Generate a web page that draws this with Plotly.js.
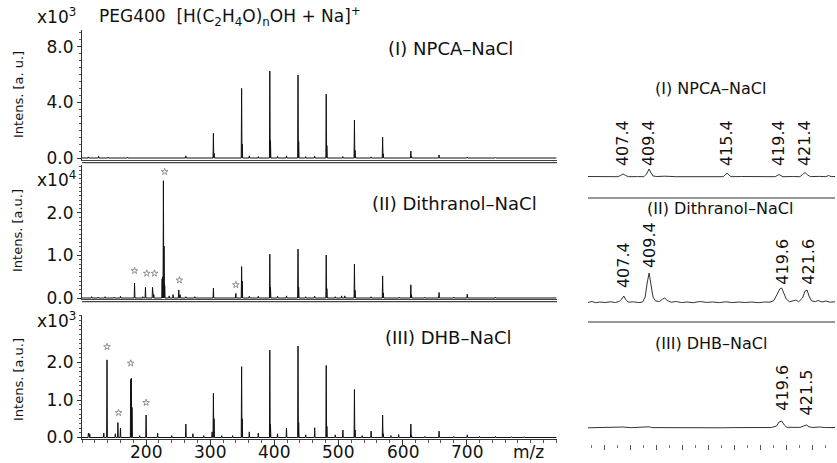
<!DOCTYPE html>
<html><head><meta charset="utf-8">
<script src="https://cdn.plot.ly/plotly-3.0.1.min.js"></script>
<style>html,body{margin:0;padding:0;background:#fff}#c{width:837px;height:463px}</style>
</head><body><div id="c"></div>
<script>
// ---- Left panels: stick spectra (m/z, intensity) ----
// (I) NPCA-NaCl, x10^3
const mzI = [110,126,141,171,262,305,306,319,349,350,361,375,393,394,405,419,437,438,449,463,481,482,507,525,526,551,569,570,613,614,657,701,745];
const hI  = [0.08,0.12,0.06,0.06,0.15,1.78,0.35,0.05,5.01,1.0,0.15,0.1,6.26,1.25,0.12,0.15,5.97,1.2,0.1,0.12,4.6,0.9,0.1,2.73,0.55,0.08,1.49,0.3,0.5,0.1,0.22,0.07,0.03];
// (II) Dithranol-NaCl, x10^4
const mzII = [115,125,136,150,160,182,195,199,210,212,225,226,227,228,229,236,242,251,253,262,276,305,340,349,350,361,375,393,394,405,419,437,438,449,463,481,482,495,505,510,525,526,551,569,570,595,613,614,635,657,680,701,745];
const hII  = [0.03,0.02,0.03,0.02,0.04,0.35,0.03,0.25,0.25,0.08,0.45,0.5,2.76,1.22,0.3,0.05,0.08,0.19,0.08,0.03,0.03,0.23,0.11,0.74,0.4,0.04,0.04,1.03,0.25,0.04,0.05,1.15,0.25,0.03,0.04,1.01,0.22,0.03,0.05,0.05,0.8,0.18,0.03,0.52,0.12,0.02,0.31,0.07,0.02,0.13,0.02,0.09,0.02];
// (III) DHB-NaCl, x10^3
const mzIII = [110,112,134,139,152,156,160,176,177,178,190,200,218,240,262,273,290,303,305,306,318,335,349,350,361,375,393,394,405,419,437,438,449,463,481,482,495,507,525,526,537,551,569,570,582,594,613,614,635,657,680,701,720,745,770,790];
const hIII  = [0.12,0.1,0.12,2.07,0.1,0.4,0.25,1.55,1.58,0.8,0.05,0.6,0.12,0.05,0.36,0.1,0.05,0.15,1.18,0.5,0.05,0.05,1.89,0.5,0.15,0.12,2.33,0.35,0.1,0.25,2.44,0.4,0.07,0.26,1.92,0.3,0.07,0.2,1.28,0.2,0.05,0.17,0.6,0.1,0.05,0.08,0.36,0.06,0.03,0.17,0.03,0.07,0.03,0.03,0.02,0.02];
// matrix-peak markers (*)
const starMzII = [182,201,213,229,252,340];
const starYII  = [0.64,0.58,0.58,2.97,0.42,0.31];
const starMzIII = [139,157,176,200];
const starYIII  = [2.42,0.66,1.98,0.93];
const xTicks = [200,300,400,500,600,700];

// ---- Right panels: zoomed profiles (relative intensity) ----
const rxI = [404.7,405.5,406.3,407.0,407.2,407.4,407.6,407.8,408.5,409.0,409.2,409.4,409.55,409.7,410.0,410.6,411.5,412.5,413.5,414.5,415.1,415.25,415.4,415.55,415.7,416.5,417.5,418.5,419.1,419.25,419.4,419.55,419.7,420.5,421.0,421.2,421.4,421.6,421.8,422.5,423.0,423.2,423.4,423.7];
const ryI = [0.5,0.2,0.6,0.3,1.5,3,1.5,0.3,0.4,0.3,3,8,4,1,0.5,0.8,0.3,0.5,0.2,0.4,0.3,2,4,2,0.3,0.5,0.2,0.4,0.3,1.5,2.5,1.2,0.3,0.5,0.3,2.5,4.5,2,0.4,0.6,0.3,1.5,0.4,0.5];
const rxII = [404.7,405.0,405.3,405.6,406.0,406.4,406.8,407.1,407.3,407.45,407.6,407.8,408.2,408.6,408.9,409.1,409.25,409.4,409.55,409.7,409.9,410.2,410.45,410.6,410.8,411.1,411.5,411.9,412.3,412.8,413.3,413.8,414.3,414.8,415.3,415.8,416.3,416.8,417.3,417.8,418.3,418.7,419.0,419.25,419.45,419.6,419.75,419.95,420.2,420.5,420.7,420.9,421.2,421.4,421.55,421.7,421.9,422.2,422.4,422.7,423.0,423.3,423.7];
const ryII = [0.5,1.5,0.3,1,0.5,1.2,0.5,1.5,4,7,3.5,0.8,1.2,0.4,1,6,20,30,18,6,2,1.5,4,5,2.5,0.8,1.5,0.4,1,0.3,1.5,0.6,1,0.4,1.2,0.4,1,0.5,1,0.3,1,0.8,2.5,9,14,15,10,4,1.2,2,3,1.2,5,12,13,7,2,1.5,2.5,1,2,0.8,1.2];
const rxIII = [404.7,405.5,406.2,406.8,407.4,408.0,408.6,409.2,409.4,409.6,410.2,411.0,412.0,413.0,414.0,415.0,416.0,417.0,418.0,418.8,419.2,419.4,419.6,419.8,420.0,420.5,421.0,421.3,421.5,421.7,422.0,422.5,423.0,423.7];
const ryIII = [0.2,0.5,0.2,0.4,1,0.3,0.4,0.5,1.2,0.4,0.3,0.5,0.2,0.4,0.3,0.2,0.4,0.3,0.5,0.5,2,6,7,3,0.7,0.8,0.6,2,3,1.2,0.5,1,0.4,0.5];
const lblI = ["407.4","409.4","415.4","419.4","421.4"];
const lblIy = [9,9,9,9,9];
const lblII = ["407.4","409.4","419.6","421.6"];
const lblIIy = [13,33,16,16];
const lblIII = ["419.6","421.5"];
const lblIIIy = [15,11];

const FONT = "DejaVu Sans";
const W = 837, H = 463;
const px = v => v / W;
const py = v => 1 - v / H;

function sticks(mz, h) {
  const idx = mz.map((m, i) => i).sort((a, b) => mz[a] - mz[b]);
  const x = [100], y = [0];
  idx.forEach(i => { x.push(mz[i] - 0.6, mz[i], mz[i] + 0.6); y.push(0, h[i], 0); });
  x.push(840); y.push(0);
  return {x, y};
}
const sI = sticks(mzI, hI), sII = sticks(mzII, hII), sIII = sticks(mzIII, hIII);
const lineStyle = {color: '#111', width: 1};
const starMarker = {symbol: 'star-open', size: 5, color: '#777', line: {width: 0.8, color: '#777'}};
const traces = [
  {x: sIII.x, y: sIII.y, xaxis: 'x', yaxis: 'y', mode: 'lines', line: lineStyle, hoverinfo: 'skip'},
  {x: sII.x, y: sII.y, xaxis: 'x2', yaxis: 'y2', mode: 'lines', line: lineStyle, hoverinfo: 'skip'},
  {x: sI.x, y: sI.y, xaxis: 'x3', yaxis: 'y3', mode: 'lines', line: lineStyle, hoverinfo: 'skip'},
  {x: starMzII, y: starYII, xaxis: 'x2', yaxis: 'y2', mode: 'markers', marker: starMarker},
  {x: starMzIII, y: starYIII, xaxis: 'x', yaxis: 'y', mode: 'markers', marker: starMarker},
  {x: rxI, y: ryI, xaxis: 'x4', yaxis: 'y4', mode: 'lines', line: {color: '#333', width: 1}},
  {x: rxII, y: ryII, xaxis: 'x5', yaxis: 'y5', mode: 'lines', line: {color: '#333', width: 1}},
  {x: rxIII, y: ryIII, xaxis: 'x6', yaxis: 'y6', mode: 'lines', line: {color: '#333', width: 1}}
];

const tickFont = {family: FONT, size: 17, color: '#111'};
const leftX = [px(82), px(557)];
const rightX = [px(588), px(835)];
function yLeft(dom, range, vals, minorD) {
  return {domain: dom, range: range, tickvals: vals, tickformat: '.1f', ticks: 'outside', ticklen: 4,
    tickcolor: '#333', showline: true, linecolor: '#333', linewidth: 1, showgrid: false, zeroline: false,
    tickfont: tickFont, minor: {ticks: 'outside', dtick: minorD, ticklen: 2, tickcolor: '#555'}, fixedrange: true};
}
function xHidden(anchor) {
  return {domain: rightX, range: [404.7, 423.7], anchor: anchor, showline: false, showgrid: false, zeroline: false,
    showticklabels: false, ticks: ''};
}
function yHidden(dom, range) {
  return {domain: dom, range: range, visible: false, showgrid: false, zeroline: false};
}
const layout = {
  width: W, height: H, margin: {l: 0, r: 0, t: 0, b: 0}, showlegend: false,
  paper_bgcolor: '#fff', plot_bgcolor: 'rgba(0,0,0,0)',
  font: {family: FONT, color: '#111'},
  xaxis: {domain: leftX, range: [100, 841], anchor: 'y', tickvals: xTicks, ticks: 'outside', ticklen: 5, tickcolor: '#333',
    showticklabels: false, showline: true, linecolor: '#333', linewidth: 1.2, showgrid: false, zeroline: false,
    minor: {ticks: 'outside', dtick: 20, tick0: 0, ticklen: 3, tickcolor: '#555'}},
  xaxis2: {domain: leftX, range: [100, 841], anchor: 'y2', showticklabels: false, ticks: '', showline: true,
    linecolor: '#444', linewidth: 1.3, showgrid: false, zeroline: false},
  xaxis3: {domain: leftX, range: [100, 841], anchor: 'y3', showticklabels: false, ticks: '', showline: true,
    linecolor: '#444', linewidth: 1.3, showgrid: false, zeroline: false},
  yaxis: yLeft([py(439), py(315)], [-0.04, 3.267], [0, 1, 2], 0.125),
  yaxis2: yLeft([py(299), py(165)], [-0.0235, 3.129], [0, 1, 2], 0.1),
  yaxis3: yLeft([py(160), py(30)], [-0.144, 9.21], [0, 4, 8], 0.5),
  xaxis4: xHidden('y4'),
  xaxis5: xHidden('y5'),
  xaxis6: {domain: rightX, range: [404.7, 423.7], anchor: 'y6', showline: false, showgrid: false, zeroline: false,
    showticklabels: false, ticks: 'outside', dtick: 2, tick0: 404, ticklen: 5, tickcolor: '#555',
    minor: {ticks: 'outside', dtick: 1, ticklen: 3, tickcolor: '#777'}},
  yaxis4: yHidden([py(190), py(100)], [-13, 77]),
  yaxis5: yHidden([py(315), py(205)], [-12, 98]),
  yaxis6: yHidden([py(444), py(330)], [-16, 98]),
  shapes: [
    {type: 'line', xref: 'paper', yref: 'paper', x0: px(82), x1: px(557), y0: py(162.7), y1: py(162.7), line: {color: '#444', width: 1.3}},
    {type: 'line', xref: 'paper', yref: 'paper', x0: px(82), x1: px(557), y0: py(301.7), y1: py(301.7), line: {color: '#444', width: 1.3}},
    {type: 'line', xref: 'paper', yref: 'paper', x0: px(588), x1: px(835), y0: py(198), y1: py(198), line: {color: '#333', width: 1.2}},
    {type: 'line', xref: 'paper', yref: 'paper', x0: px(588), x1: px(835), y0: py(322), y1: py(322), line: {color: '#333', width: 1.2}}
  ],
  annotations: []
};
const A = layout.annotations;
function paperText(text, x, y, size, opts) {
  A.push(Object.assign({text: text, xref: 'paper', yref: 'paper', x: px(x), y: py(y), showarrow: false,
    font: {family: FONT, size: size, color: '#111'}, xanchor: 'center', yanchor: 'middle'}, opts || {}));
}
paperText('x10<sup>3</sup>', 35, 16, 17, {xanchor: 'left'});
paperText('x10<sup>4</sup>', 35, 179, 17, {xanchor: 'left'});
paperText('x10<sup>3</sup>', 35, 320, 17, {xanchor: 'left'});
paperText('PEG400\u00a0\u00a0[H(C<sub>2</sub>H<sub>4</sub>O)<sub>n</sub>OH + Na]<sup>+</sup>', 97, 17, 17, {xanchor: 'left'});
paperText('Intens. [a. u.]', 18, 95, 13, {textangle: -90});
paperText('Intens. [a.u.]', 18, 231, 13, {textangle: -90});
paperText('Intens. [a.u.]', 18, 380, 13, {textangle: -90});
paperText('(I) NPCA\u2013NaCl', 450, 49, 18);
paperText('(II) Dithranol\u2013NaCl', 454, 203, 18);
paperText('(III) DHB\u2013NaCl', 448, 337, 18);
paperText('m/z', 528, 452, 17);
paperText('(I) NPCA\u2013NaCl', 710, 88, 16);
paperText('(II) Dithranol\u2013NaCl', 720, 208, 16);
paperText('(III) DHB\u2013NaCl', 711, 343, 16);
// bottom x tick labels, placed on the data axis
xTicks.forEach(v => A.push({text: String(v), x: v, xref: 'x', y: py(452), yref: 'paper', showarrow: false,
  xanchor: 'center', yanchor: 'middle', font: tickFont}));
function peakLabels(lbls, ys, xr, yr) {
  lbls.forEach((t, i) => A.push({text: t, x: parseFloat(t), y: ys[i], xref: xr, yref: yr, showarrow: false,
    textangle: -90, xanchor: 'center', yanchor: 'bottom', font: {family: FONT, size: 16, color: '#111'}}));
}
peakLabels(lblI, lblIy, 'x4', 'y4');
peakLabels(lblII, lblIIy, 'x5', 'y5');
peakLabels(lblIII, lblIIIy, 'x6', 'y6');

Plotly.newPlot('c', traces, layout, {staticPlot: true, displayModeBar: false});
</script></body></html>
